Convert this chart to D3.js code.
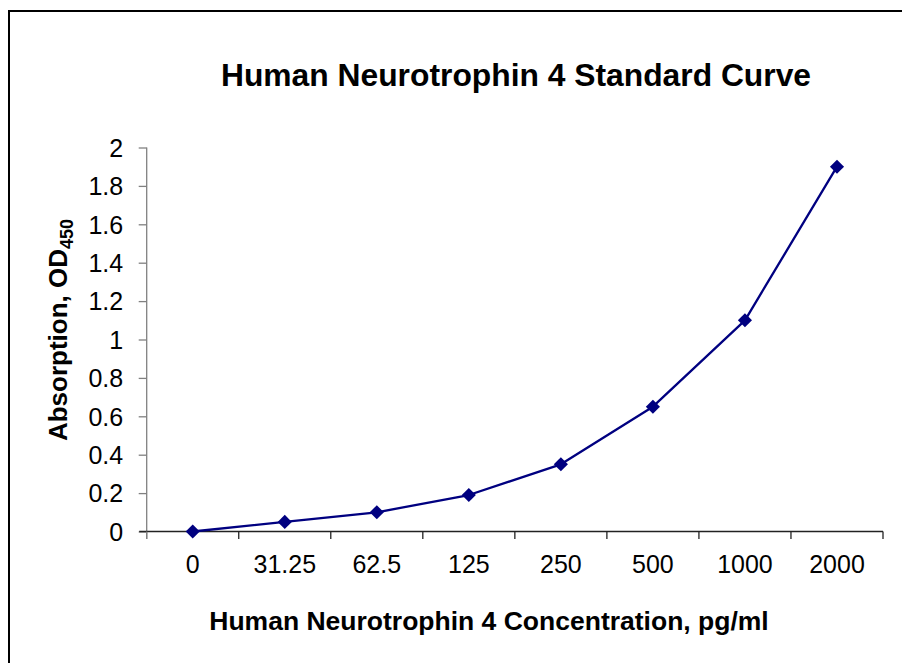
<!DOCTYPE html>
<html>
<head>
<meta charset="utf-8">
<script src="https://cdn.jsdelivr.net/npm/d3@7"></script>
<style>
  html, body { margin: 0; padding: 0; background: #fff; }
  svg { display: block; }
  text { font-family: "Liberation Sans", Arial, sans-serif; }
</style>
</head>
<body>
<svg id="chart" width="902" height="663"></svg>
<script>
const categories = ["0", "31.25", "62.5", "125", "250", "500", "1000", "2000"];
const odValues = [0, 0.05, 0.10, 0.19, 0.35, 0.65, 1.10, 1.90];
const yTicks = [0, 0.2, 0.4, 0.6, 0.8, 1, 1.2, 1.4, 1.6, 1.8, 2];
const titleText = "Human Neurotrophin 4 Standard Curve";
const xTitleText = "Human Neurotrophin 4 Concentration, pg/ml";

const svg = d3.select("#chart");
const W = 902, H = 663;

svg.append("rect").attr("x", 0).attr("y", 0).attr("width", W).attr("height", H).attr("fill", "#fff");
// outer frame (extends beyond the visible area on right and bottom)
svg.append("rect").attr("x", 9).attr("y", 11).attr("width", 1000).attr("height", 1000)
  .attr("fill", "none").attr("stroke", "#000").attr("stroke-width", 2);

const plot = { left: 146.7, right: 883, top: 147.5, bottom: 531.5 };

const x = d3.scaleBand().domain(categories).range([plot.left, plot.right]).padding(0);
const y = d3.scaleLinear().domain([0, 2]).range([plot.bottom, plot.top]);

// Title
svg.append("text").attr("x", 516).attr("y", 86).attr("text-anchor", "middle")
  .attr("font-size", 31.8).attr("font-weight", "bold").attr("fill", "#000").text(titleText);

// Y axis
const yAxis = svg.append("g").attr("transform", `translate(${plot.left},0)`)
  .call(d3.axisLeft(y).tickValues(yTicks).tickSize(8).tickPadding(15.5)
    .tickFormat(d => d3.format("~g")(d)));
yAxis.select(".domain").attr("stroke", "#808080").attr("stroke-width", 1.3)
  .attr("d", `M0,${plot.top}V${plot.bottom + 7.5}`);
yAxis.selectAll(".tick line").attr("stroke", "#808080").attr("stroke-width", 1.3);
yAxis.selectAll(".tick text").attr("font-size", 25).attr("fill", "#000")
  .attr("font-family", "Liberation Sans, Arial, sans-serif").attr("dy", "0.35em");

// X axis (labels at band centres, ticks at band edges)
const xAxis = svg.append("g").attr("transform", `translate(0,${plot.bottom})`)
  .call(d3.axisBottom(x).tickSize(0).tickPadding(0));
xAxis.select(".domain").attr("stroke", "#222").attr("stroke-width", 1.3)
  .attr("d", `M${plot.left - 7.5},0H${plot.right}`);
xAxis.selectAll(".tick text").attr("font-size", 25).attr("fill", "#000")
  .attr("font-family", "Liberation Sans, Arial, sans-serif")
  .attr("y", 41.5).attr("dy", 0);
const edges = categories.map(c => x(c)).concat([x.range()[1]]);
xAxis.selectAll(".edge-tick").data(edges).enter().append("line")
  .attr("class", "edge-tick")
  .attr("x1", d => d).attr("x2", d => d).attr("y1", 0).attr("y2", 7.5)
  .attr("stroke", (d, i) => i === 0 ? "#808080" : "#222").attr("stroke-width", 1.3);

// Axis titles
svg.append("text").attr("x", 489).attr("y", 630).attr("text-anchor", "middle")
  .attr("font-size", 26.5).attr("font-weight", "bold").attr("fill", "#000").text(xTitleText);

const yt = svg.append("text").attr("transform", "translate(67,330) rotate(-90)")
  .attr("text-anchor", "middle").attr("font-size", 26).attr("font-weight", "bold").attr("fill", "#000");
yt.append("tspan").text("Absorption, OD");
yt.append("tspan").attr("font-size", 18).attr("dy", 6).text("450");

// Line + markers
const pts = categories.map((c, i) => ({ c, v: odValues[i] }));
const line = d3.line().x(d => x(d.c) + x.bandwidth() / 2).y(d => y(d.v));
svg.append("path").datum(pts).attr("d", line).attr("fill", "none")
  .attr("stroke", "#000080").attr("stroke-width", 2.3).attr("stroke-linejoin", "round");
const sym = d3.symbol().type(d3.symbolSquare).size(100);
svg.selectAll(".pt").data(pts).enter().append("path").attr("class", "pt")
  .attr("d", sym)
  .attr("transform", d => `translate(${x(d.c) + x.bandwidth() / 2},${y(d.v)}) rotate(45)`)
  .attr("fill", "#000080");
</script>
</body>
</html>
